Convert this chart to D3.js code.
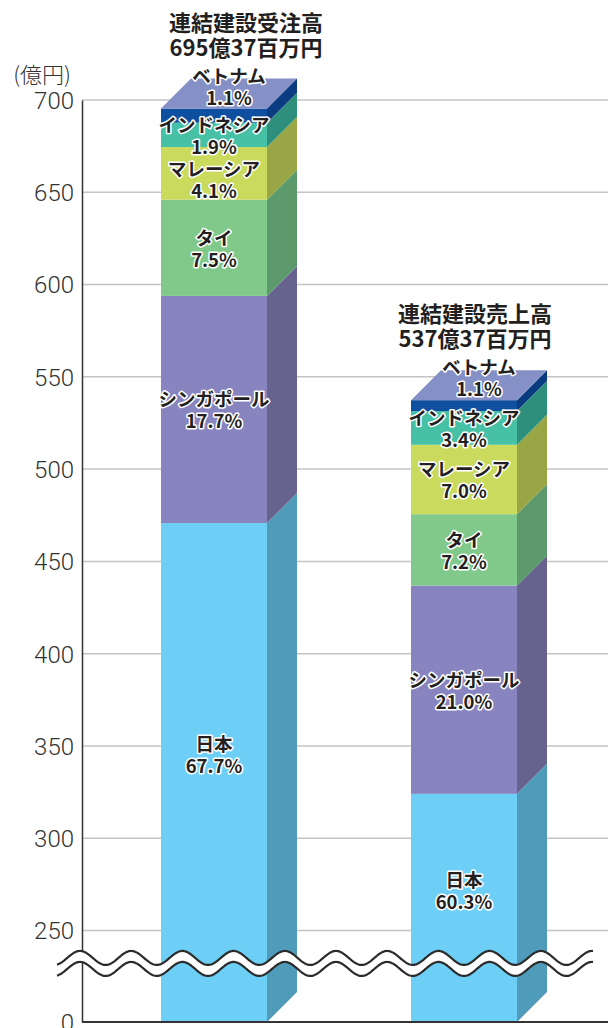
<!DOCTYPE html>
<html>
<head>
<meta charset="utf-8">
<script src="https://cdn.jsdelivr.net/npm/d3@7"></script>
<style>
  html, body { margin: 0; padding: 0; background: #fff; }
  svg { display: block; }
</style>
</head>
<body>
<div id="chart"></div>
<script>
// data (億円 / %)
const categories = ['受注高', '売上高']
const titles = ['連結建設受注高', '連結建設売上高']
const totalLabels = ['695億37百万円', '537億37百万円']
const totals = [695.37, 537.37]
const countries = ['日本', 'シンガポール', 'タイ', 'マレーシア', 'インドネシア', 'ベトナム']
const orderShare = [67.7, 17.7, 7.5, 4.1, 1.9, 1.1]
const salesShare = [60.3, 21.0, 7.2, 7.0, 3.4, 1.1]
const yTicks = [0, 250, 300, 350, 400, 450, 500, 550, 600, 650, 700]
const yUnit = '(億円)'

const frontColor = ['#6dcff5', '#8784bf', '#80c98a', '#c9da5c', '#47c1a6', '#0f4fa0']
const sideColor = ['#4f9cba', '#66638f', '#5d9a6b', '#98a645', '#2e8f7d', '#0b3c82']
const topColor = '#8490c6'
const textColor = '#231f20'
const jpFont = '"Noto Sans CJK JP", "Noto Sans", sans-serif'

const W = 608, H = 1028
const depth = 30
const titleShift = [32, 11]

const svg = d3.select('#chart').append('svg')
  .attr('width', W).attr('height', H)
  .attr('font-family', jpFont)

// broken axis: 0..250 squeezed, 250..700 linear
const y = d3.scaleLinear().domain([0, 250, 700]).range([1022, 930.5, 100])
const x = d3.scaleBand().domain(categories).range([82, 596])
  .paddingInner(0.576).paddingOuter(0.316)
const bw = x.bandwidth()

// grid
svg.append('g').selectAll('line')
  .data(yTicks.filter(d => d > 0)).enter().append('line')
  .attr('x1', 82).attr('x2', W)
  .attr('y1', d => y(d)).attr('y2', d => y(d))
  .attr('stroke', '#c4c4c4').attr('stroke-width', 1.5)

// bars
const shares = [orderShare, salesShare]
categories.forEach((cat, bi) => {
  let acc = 0
  const segs = shares[bi].map((p, i) => {
    const v = totals[bi] * p / 100
    const s = {name: countries[i], pct: p, y0: acc, y1: acc + v, i: i}
    acc += v
    return s
  })
  const x0 = x(cat), x1 = x0 + bw
  const g = svg.append('g')

  g.selectAll('rect.front').data(segs).enter().append('rect')
    .attr('x', x0).attr('width', bw)
    .attr('y', d => y(d.y1))
    .attr('height', d => y(d.y0) - y(d.y1))
    .attr('fill', d => frontColor[d.i])

  g.selectAll('path.side').data(segs).enter().append('path')
    .attr('d', d => {
      const a = y(d.y1), b = y(d.y0)
      return 'M' + x1 + ',' + a + 'L' + (x1 + depth) + ',' + (a - depth) +
        'L' + (x1 + depth) + ',' + (b - depth) + 'L' + x1 + ',' + b + 'Z'
    })
    .attr('fill', d => sideColor[d.i])

  const yt = y(totals[bi])
  g.append('path')
    .attr('d', 'M' + x0 + ',' + yt + 'L' + (x0 + depth) + ',' + (yt - depth) +
      'L' + (x1 + depth) + ',' + (yt - depth) + 'L' + x1 + ',' + yt + 'Z')
    .attr('fill', topColor)

  // titles
  const tx = x0 + bw / 2 + titleShift[bi]
  g.append('text').attr('x', tx).attr('y', yt - depth - 58)
    .attr('text-anchor', 'middle').attr('dominant-baseline', 'central')
    .attr('font-size', 22).attr('font-weight', 700).attr('fill', textColor)
    .text(titles[bi])
  g.append('text').attr('x', tx).attr('y', yt - depth - 33)
    .attr('text-anchor', 'middle').attr('dominant-baseline', 'central')
    .attr('font-size', 22).attr('font-weight', 700).attr('fill', textColor)
    .text(totalLabels[bi])

  // labels, top down, pushed apart when crowded
  let prev = -Infinity
  const labels = []
  segs.slice().reverse().forEach((d, k) => {
    let cx = x0 + bw / 2, cy
    if (k === 0) {
      cx += depth / 2
      cy = yt - 23
    } else {
      const bottom = d.y0 === 0 ? y(100) : y(d.y0)
      cy = Math.max((y(d.y1) + bottom) / 2, prev + 44)
    }
    prev = cy
    labels.push({cx: cx, cy: cy, name: d.name, pct: d.pct.toFixed(1) + '%'})
  })
  const lab = g.selectAll('g.lab').data(labels).enter().append('g')
  ;[['name', -11], ['pct', 11]].forEach(([key, off]) => {
    lab.append('text')
      .attr('x', d => d.cx).attr('y', d => d.cy + off)
      .attr('text-anchor', 'middle').attr('dominant-baseline', 'central')
      .attr('font-size', 18.5).attr('font-weight', 700)
      .attr('fill', textColor).attr('stroke', '#fff').attr('stroke-width', 3)
      .attr('stroke-linejoin', 'round').attr('paint-order', 'stroke')
      .text(d => d[key])
  })
})

// axes
const axis = svg.append('g').attr('transform', 'translate(82,0)')
  .call(d3.axisLeft(y).tickValues(yTicks).tickSize(0).tickSizeOuter(0).tickPadding(8))
axis.select('.domain').attr('stroke', '#333').attr('stroke-width', 1.5)
axis.selectAll('text')
  .attr('font-family', 'Roboto, sans-serif').attr('font-weight', 300)
  .attr('font-size', 24).attr('fill', '#333').attr('dy', '0.35em')

svg.append('line').attr('x1', 82).attr('x2', W)
  .attr('y1', y(0)).attr('y2', y(0))
  .attr('stroke', '#333').attr('stroke-width', 2)

svg.append('text').attr('x', 71).attr('y', 73)
  .attr('text-anchor', 'end').attr('dominant-baseline', 'central')
  .attr('font-size', 22).attr('font-weight', 300).attr('fill', '#333')
  .text(yUnit)

// wavy break mark
const waveY = y(160), amp = 7, period = 51.2, gap = 11
const wx = d3.range(57, 593.5, 1)
const wave = off => wx.map(v => [v, waveY - gap / 2 + off - amp * Math.cos(2 * Math.PI * (v - 80) / period)])
const up = wave(0), low = wave(gap)
const line = d3.line()
svg.append('path')
  .attr('d', line(up.concat(low.slice().reverse())) + 'Z')
  .attr('fill', '#fff')
;[up, low].forEach(pts => {
  svg.append('path').attr('d', line(pts))
    .attr('fill', 'none').attr('stroke', '#2b2b2b').attr('stroke-width', 2.2)
})
</script>
</body>
</html>
